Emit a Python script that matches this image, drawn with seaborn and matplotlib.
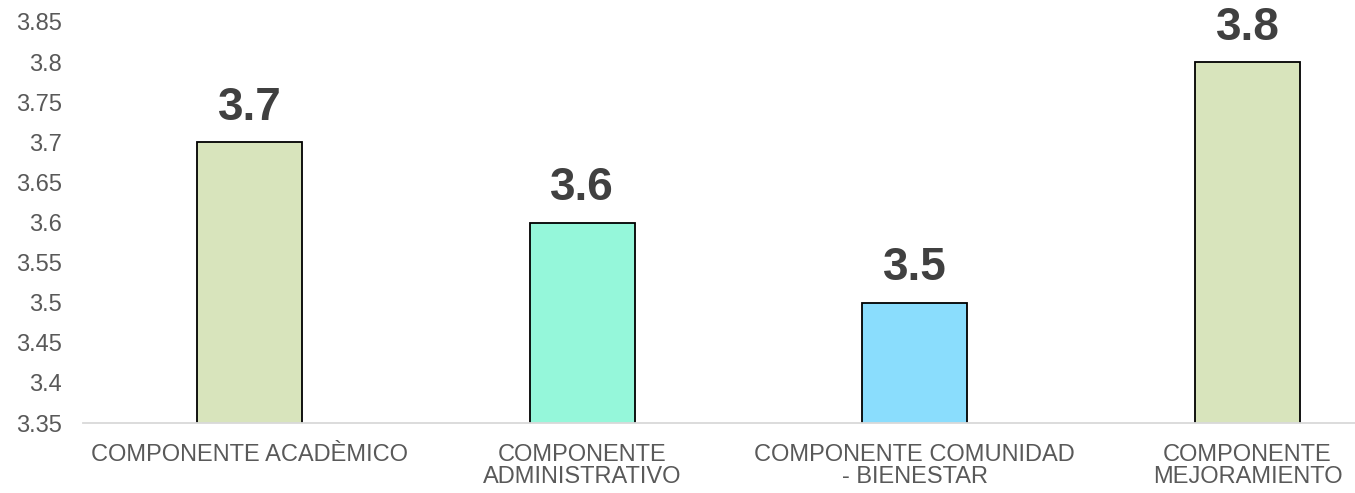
import matplotlib
matplotlib.use("Agg")
import matplotlib.pyplot as plt
import seaborn as sns
import pandas as pd

categories = ["COMPONENTE ACADÈMICO", "COMPONENTE\nADMINISTRATIVO",
              "COMPONENTE COMUNIDAD\n- BIENESTAR", "COMPONENTE\nMEJORAMIENTO"]
values = [3.7, 3.6, 3.5, 3.8]
colors = ["#D8E4BC", "#95F7DA", "#8ADDFD", "#D8E4BC"]
yticks = [3.35, 3.4, 3.45, 3.5, 3.55, 3.6, 3.65, 3.7, 3.75, 3.8, 3.85]
ytick_labels = ["3.35", "3.4", "3.45", "3.5", "3.55", "3.6", "3.65", "3.7", "3.75", "3.8", "3.85"]

sns.set_theme(style="white")
plt.rcParams["font.family"] = ["Liberation Sans", "DejaVu Sans"]

df = pd.DataFrame({"cat": categories, "val": values})

fig = plt.figure(figsize=(13.55, 4.93), dpi=100)
ax = fig.add_axes([83 / 1355, 70 / 493, 1 - 83 / 1355, (471 - 70) / 493])

sns.barplot(data=df, x="cat", y="val", hue="cat", palette=colors, legend=False,
            width=0.316, edgecolor="black", linewidth=1.3, ax=ax, saturation=1)

ax.set_ylim(3.35, 3.85)
ax.set_xlim(-0.5, 3.323)
ax.set_yticks(yticks)
ax.set_yticklabels(ytick_labels)
ax.set_xlabel("")
ax.set_ylabel("")

for c in ax.containers:
    ax.bar_label(c, labels=[f"{v:.1f}" for v in c.datavalues], padding=9,
                 fontsize=33, fontweight="bold", color="#404040")

for s in ["top", "right", "left"]:
    ax.spines[s].set_visible(False)
ax.spines["bottom"].set_color("#D9D9D9")
ax.spines["bottom"].set_linewidth(1.3)

ax.tick_params(axis="both", length=0, labelsize=17, labelcolor="#595959")
ax.tick_params(axis="y", pad=15)
ax.tick_params(axis="x", pad=15)
for t in ax.get_xticklabels():
    t.set_linespacing(1.0)
ax.grid(False)

fig.savefig("out.png", dpi=100)
